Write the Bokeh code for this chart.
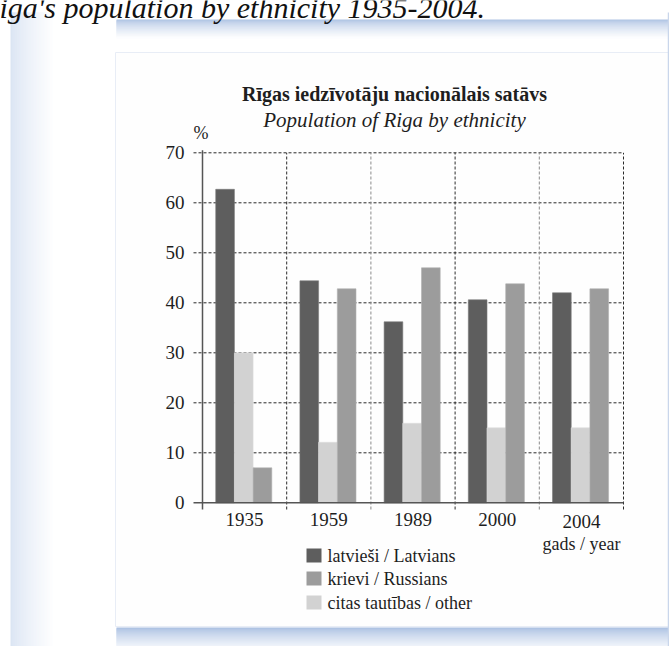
import numpy as np
from bokeh.plotting import figure
from bokeh.models import Range1d, ColumnDataSource
from bokeh.transform import dodge
from bokeh.core.properties import value
from bokeh.embed import file_html
from bokeh.resources import INLINE

# ---- data -------------------------------------------------------------
years = ["1935", "1959", "1989", "2000", "2004"]
latvians = [62.7, 44.4, 36.2, 40.6, 42.0]
russians = [7.0, 42.8, 47.0, 43.8, 42.8]
other = [30.0, 12.1, 15.9, 15.0, 15.0]
y_ticks = [0, 10, 20, 30, 40, 50, 60, 70]

series_labels = ["latvieši / Latvians", "krievi / Russians", "citas tautības / other"]
series_colors = ["#5e5e5e", "#9c9c9c", "#d2d2d2"]

title_lv = "Rīgas iedzīvotāju nacionālais satāvs"
title_en = "Population of Riga by ethnicity"
y_unit = "%"
x_name = "gads / year"
page_caption = "iga's population by ethnicity 1935-2004."

# ---- geometry ---------------------------------------------------------
W, H = 669, 646
left_px, bottom_px = 202.0, 502.3      # where x=0 / y=0 sit on the page
px_per_group, px_per_unit = 84.2, 5.0
y_max = max(y_ticks)
n = len(years)

FONT = value("Liberation Serif")
INK = "#1e1e1e"

p = figure(
    width=W, height=H,
    x_range=Range1d(-left_px / px_per_group, (W - left_px) / px_per_group),
    y_range=Range1d(-(H - bottom_px) / px_per_unit, bottom_px / px_per_unit),
    x_axis_type=None, y_axis_type=None,
    toolbar_location=None, output_backend="svg", min_border=0,
)
p.outline_line_color = None
p.background_fill_color = "white"
p.border_fill_color = "white"


def gx(px):
    """page pixel column -> chart x"""
    return (px - left_px) / px_per_group


def gy(py):
    """page pixel row -> chart y"""
    return (bottom_px - py) / px_per_unit


def mix(c0, c1, t):
    return "#%02x%02x%02x" % tuple(int(round(a + (b - a) * t)) for a, b in zip(c0, c1))


def fade_band(x0, x1, y0, y1, c0, c1, steps, along="y", power=1.0):
    """Soft colour ramp built from thin overlapping strips (page pixels)."""
    edges = np.linspace(0, 1, steps + 1)
    L, R, T, B, C = [], [], [], [], []
    for a, b in zip(edges[:-1], edges[1:]):
        t = ((a + b) / 2) ** power
        if along == "y":
            L.append(x0); R.append(x1)
            T.append(y0 + (y1 - y0) * a); B.append(min(y1, y0 + (y1 - y0) * b + 1))
        else:
            L.append(x0 + (x1 - x0) * a); R.append(min(x1, x0 + (x1 - x0) * b + 1))
            T.append(y0); B.append(y1)
        C.append(mix(c0, c1, t))
    p.quad(left=[gx(v) for v in L], right=[gx(v) for v in R],
           top=[gy(v) for v in T], bottom=[gy(v) for v in B],
           fill_color=C, line_color=None)


BLUE = (165, 188, 224)
PALE = (218, 228, 243)
WHITE = (255, 255, 255)

# page decoration: side ribbon, shadows, card outline
fade_band(10, 54, 12, H, PALE, WHITE, 44, along="x", power=0.8)
fade_band(116, 668, 19, 38, BLUE, WHITE, 19, along="y", power=0.6)
p.quad(left=[gx(115)], right=[gx(668)], top=[gy(52)], bottom=[gy(626)],
       fill_color="#fefefe", line_color="#e8edf6", line_width=1)
fade_band(116, 668, 627, H, BLUE, (240, 244, 250), 19, along="y", power=0.7)
p.segment(x0=[gx(668)], y0=[gy(12)], x1=[gx(668)], y1=[gy(H)],
          line_color="#c9d6eb", line_width=1.5)

# caption line running off the top edge
p.text(x=[gx(-1)], y=[gy(7)], text=[page_caption], text_font=FONT, text_font_size="30px",
       text_font_style="italic", text_color="#111111", text_baseline="alphabetic")

# ---- grid -------------------------------------------------------------
grid_y = [t for t in y_ticks if t > 0]
p.segment(x0=[gx(193)] * len(grid_y), y0=grid_y, x1=[n] * len(grid_y), y1=grid_y,
          line_color="#2a2a2a", line_width=1, line_dash="3 2")
bounds = list(range(1, n + 1))
vcols = ["#2a2a2a" if b % 2 else "#8a8a8a" for b in bounds]
p.segment(x0=bounds, y0=[gy(509)] * n, x1=bounds, y1=[y_max] * n,
          line_color=vcols, line_width=1, line_dash="3 2")

# ---- bars -------------------------------------------------------------
src = ColumnDataSource(dict(
    x=[i + 0.49 for i in range(n)], lat=latvians, rus=russians, oth=other,
))
bw = 0.222
p.vbar(x=dodge("x", -bw, range=p.x_range), top="lat", bottom=0, width=bw, source=src,
       fill_color=series_colors[0], line_color="#7a7a7a", line_width=0.6)
p.vbar(x=dodge("x", 0, range=p.x_range), top="oth", bottom=0, width=bw, source=src,
       fill_color=series_colors[2], line_color="#dedede", line_width=0.6)
p.vbar(x=dodge("x", bw, range=p.x_range), top="rus", bottom=0, width=bw, source=src,
       fill_color=series_colors[1], line_color="#b0b0b0", line_width=0.6)

# ---- axes -------------------------------------------------------------
p.segment(x0=[0], y0=[gy(509)], x1=[0], y1=[y_max + 0.5], line_color="#555555", line_width=1.5)
p.segment(x0=[gx(193)], y0=[0], x1=[n], y1=[0], line_color="#555555", line_width=1.5)

p.text(x=[gx(184)] * len(y_ticks), y=y_ticks, text=[str(t) for t in y_ticks],
       text_font=FONT, text_font_size="19px", text_color=INK,
       text_align="right", text_baseline="middle")
p.text(x=[gx(193)], y=[gy(132)], text=[y_unit], text_font=FONT, text_font_size="18px",
       text_color=INK, text_align="left", text_baseline="middle")

p.text(x=[i + 0.5 for i in range(n)], y=[gy(519)] * (n - 1) + [gy(521)], text=years,
       text_font=FONT, text_font_size="19px", text_color=INK,
       text_align="center", text_baseline="middle")
p.text(x=[n - 0.5], y=[gy(543)], text=[x_name], text_font=FONT, text_font_size="18px",
       text_color=INK, text_align="center", text_baseline="middle")

# ---- titles -----------------------------------------------------------
p.text(x=[gx(394)], y=[gy(93)], text=[title_lv], text_font=FONT, text_font_size="20px",
       text_font_style="bold", text_color=INK, text_align="center",
       text_baseline="alphabetic")
p.text(x=[gx(394)], y=[gy(119)], text=[title_en], text_font=FONT, text_font_size="21px",
       text_font_style="italic", text_color=INK, text_align="center",
       text_baseline="alphabetic")

# ---- legend -----------------------------------------------------------
leg_y = [555, 578, 602]
p.quad(left=[gx(306)] * 3, right=[gx(321)] * 3,
       top=[gy(y - 7) for y in leg_y], bottom=[gy(y + 7) for y in leg_y],
       fill_color=series_colors, line_color=None)
p.text(x=[gx(327)] * 3, y=[gy(y) for y in leg_y], text=series_labels, text_font=FONT,
       text_font_size="18px", text_color=INK, text_align="left", text_baseline="middle")

open("out.html", "w").write(file_html(p, INLINE))
